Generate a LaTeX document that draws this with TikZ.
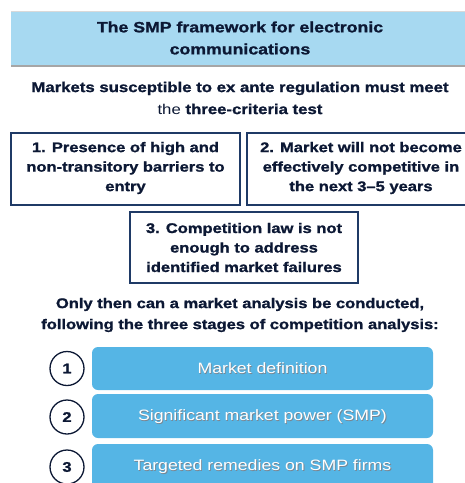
\documentclass[tikz,border=0pt]{standalone}
\usepackage{fontspec}
\setmainfont{Liberation Sans}[FakeStretch=1.18,BoldFeatures={FakeBold=1.2}]
\definecolor{navy}{HTML}{0C1834}
\definecolor{boxline}{HTML}{1F3A66}
\definecolor{titlefill}{HTML}{A7D9F1}
\definecolor{stagefill}{HTML}{55B5E5}
\definecolor{shadowgray}{HTML}{7A8590}
\newcommand{\shtext}[1]{\makebox[0pt][l]{\hspace{0.8pt}\raisebox{-0.8pt}{\color{shadowgray}#1}}#1}
\begin{document}
\begin{tikzpicture}[x=1pt,y=-1pt,
  crit/.style={draw=boxline,line width=1.3pt,fill=white},
  crittext/.style={font=\bfseries\fontsize{14}{19.5}\selectfont,text=navy,align=center},
  headtext/.style={font=\bfseries\fontsize{15}{22}\selectfont,text=navy,align=center},
  stage/.style={fill=stagefill,rounded corners=6pt},
  stagetext/.style={font=\fontsize{15}{18}\selectfont,text=white},
  numcircle/.style={circle,draw=navy,line width=1.3pt,minimum size=34pt,inner sep=0pt,
    font=\bfseries\fontsize{14}{16}\selectfont,text=navy}]
\useasboundingbox (0,0) rectangle (465,483);
\begin{scope}
\clip (0,0) rectangle (465,483);
% title banner
\fill[titlefill] (11,11) rectangle (470,66);
\draw[line width=0.6pt,black!15] (11,11) -- (470,11);
\draw[line width=1.2pt,black!35] (11,66) -- (470,66);
\node[headtext] (title) at (240,38) {The SMP framework for electronic\\communications};
\node[headtext,font=\bfseries\fontsize{14.2}{22}\selectfont] (intro) at (240,98) {Markets susceptible to ex ante regulation must meet\\{\mdseries the} three-criteria test};
% the three criteria
\draw[crit] (11,133) rectangle (240,205);
\draw[crit] (247,133) rectangle (472,205);
\draw[crit] (130,212) rectangle (358,283);
\node[crittext] (c1) at (125.5,168) {1. Presence of high and\\non-transitory barriers to\\entry};
\node[crittext] (c2) at (361,168) {2. Market will not become\\effectively competitive in\\the next 3--5 years};
\node[crittext] (c3) at (244,247.5) {3. Competition law is not\\enough to address\\identified market failures};
\node[headtext,font=\bfseries\fontsize{14}{21}\selectfont] (then) at (240,315) {Only then can a market analysis be conducted,\\following the three stages of competition analysis:};
% stages of the analysis
\fill[stage] (92,347) rectangle (433,390);
\fill[stage] (92,394) rectangle (433,438);
\fill[stage] (92,444) rectangle (433,500);
\node[stagetext] (s1) at (262.5,369) {\shtext{Market definition}};
\node[stagetext] (s2) at (262.5,417) {\shtext{Significant market power (SMP)}};
\node[stagetext] (s3) at (262.5,467) {\shtext{Targeted remedies on SMP firms}};
\node[numcircle] (n1) at (67,368.5) {1};
\node[numcircle] (n2) at (67,417) {2};
\node[numcircle] (n3) at (67,467) {3};
\end{scope}
\end{tikzpicture}
\end{document}
